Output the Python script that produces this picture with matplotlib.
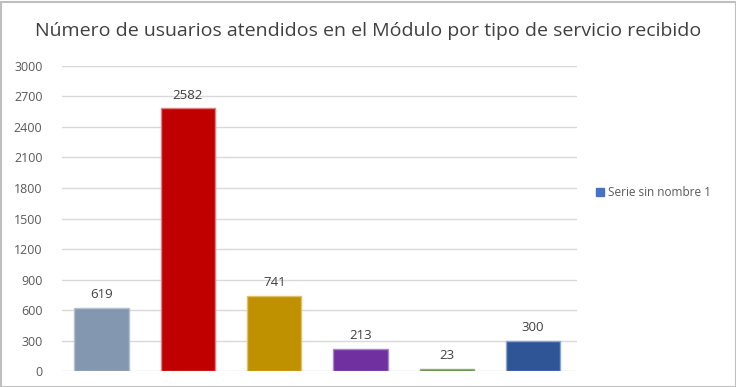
import matplotlib.pyplot as plt
from matplotlib.patches import Rectangle

plt.rcParams['font.family'] = ['Open Sans', 'DejaVu Sans']

# datos
servicios = ['S1', 'S2', 'S3', 'S4', 'S5', 'S6']
usuarios = [619, 2582, 741, 213, 23, 300]
colores = ['#8497B0', '#C00000', '#BF9000', '#7030A0', '#548235', '#2F5597']
bordes = ['#B4C1D3', '#E08080', '#DCC070', '#A888C8', '#90B078', '#8FA5D0']
yticks = list(range(0, 3001, 300))

fig = plt.figure(figsize=(7.36, 3.87), dpi=100)
ax = fig.add_axes([0.0842, 0.0413, 0.7, 0.7882])

x = range(len(usuarios))
bars = ax.bar(x, usuarios, width=0.63, color=colores, edgecolor=bordes,
              linewidth=1, zorder=3)
for b, v in zip(bars, usuarios):
    ax.annotate(str(v), (b.get_x() + b.get_width() / 2, v), xytext=(0, 5),
                textcoords='offset points', ha='center', va='bottom',
                fontsize=9.5, color='#404040')

ax.set_xlim(-0.46, 5.51)
ax.set_ylim(0, 3000)
ax.set_yticks(yticks)
ax.set_xticks([])
ax.grid(axis='y', color='#D9D9D9', linewidth=1, zorder=0)
for s in ax.spines.values():
    s.set_visible(False)
ax.tick_params(axis='y', length=0, labelsize=9, labelcolor='#595959', pad=14)

fig.text(0.5, 0.92, 'Número de usuarios atendidos en el Módulo por tipo de servicio recibido',
         ha='center', va='center', fontsize=14, color='#404040')

# leyenda
fig.patches.append(Rectangle((596 / 736, 1 - 196 / 387), 8 / 736, 8 / 387,
                             transform=fig.transFigure, color='#4472C4'))
fig.text(608 / 736, 1 - 192 / 387, 'Serie sin nombre 1', va='center',
         fontsize=8.5, color='#595959')

fig.patches.append(Rectangle((0.5 / 736, 0.5 / 387), 735 / 736, 385 / 387,
                             transform=fig.transFigure, fill=False,
                             edgecolor='#BFBFBF', linewidth=1.5))

fig.savefig('out.png', dpi=100)
